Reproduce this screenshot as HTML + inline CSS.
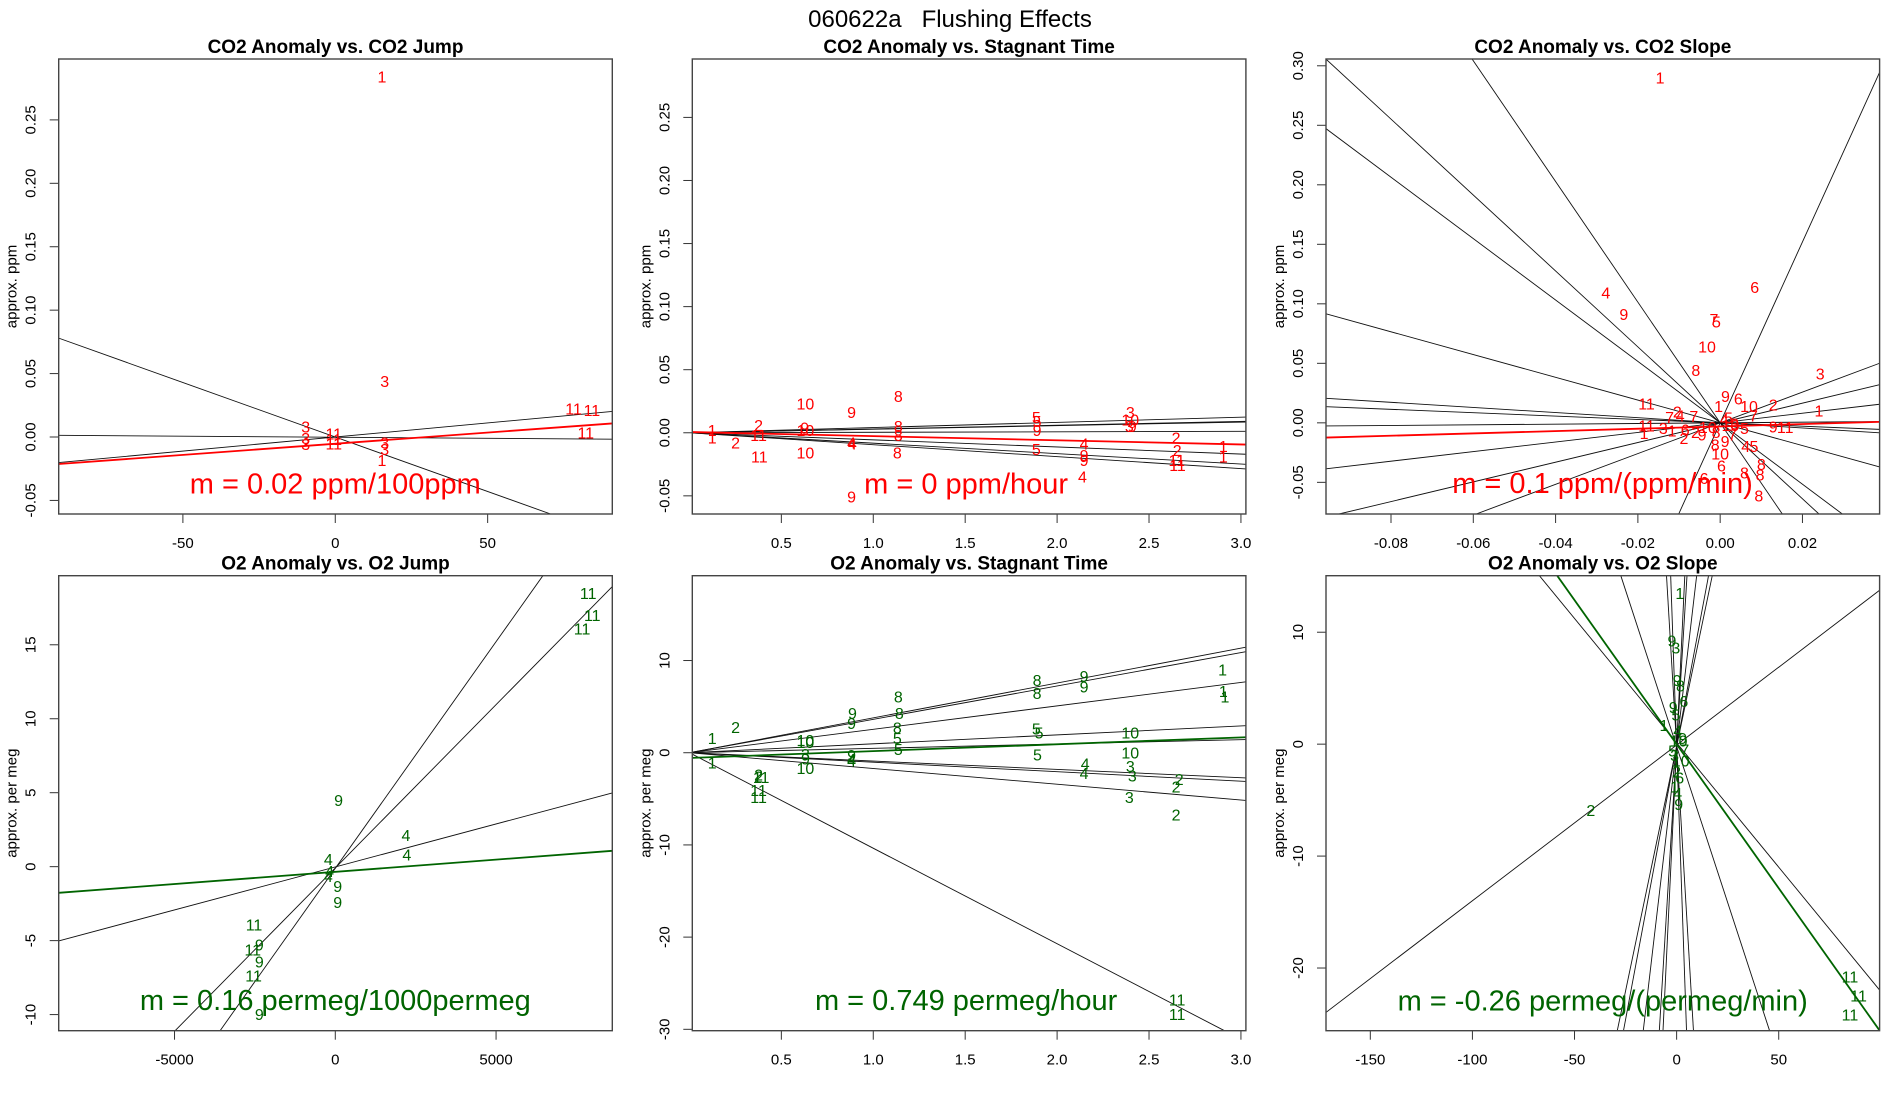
<!DOCTYPE html>
<html><head><meta charset="utf-8"><title>060622a Flushing Effects</title>
<style>html,body{margin:0;padding:0;background:#fff;overflow:hidden;width:1900px;height:1100px}svg{display:block;font-family:"Liberation Sans",Arial,sans-serif}</style>
</head><body>
<svg id="chart" width="1900" height="1100" viewBox="0 0 1900 1100" xmlns="http://www.w3.org/2000/svg">
<rect x="0" y="0" width="1900" height="1100" fill="#fff"/>
<text x="950" y="27" text-anchor="middle" font-size="24" xml:space="preserve">060622a   Flushing Effects</text>
</svg>
<script>
// ---- data ----
const panelTitles = ["CO2 Anomaly vs. CO2 Jump","CO2 Anomaly vs. Stagnant Time","CO2 Anomaly vs. CO2 Slope","O2 Anomaly vs. O2 Jump","O2 Anomaly vs. Stagnant Time","O2 Anomaly vs. O2 Slope"];
const yTitles = ["approx. ppm","approx. ppm","approx. ppm","approx. per meg","approx. per meg","approx. per meg"];
const fitTexts = ["m = 0.02 ppm/100ppm","m = 0 ppm/hour","m = 0.1 ppm/(ppm/min)","m = 0.16 permeg/1000permeg","m = 0.749 permeg/hour","m = -0.26 permeg/(permeg/min)"];
const fitTextPos = [[0,-0.0368],[1.505,-0.0404],[-0.0286,-0.0505],[0,-9.0],[1.505,-26.8],[-36.2,-22.9]];
const xLimits = [[-90.75,90.9],[0.0156,3.027],[-0.0958,0.03875],[-8602,8615],[0.0156,3.027],[-171.7,99.4]];
const yLimits = [[-0.0607,0.298],[-0.0644,0.2963],[-0.0766,0.3057],[-11.09,19.67],[-30.15,19.2],[-25.6,15.05]];
const xTicks = [[-50,0,50],[0.5,1,1.5,2,2.5,3],[-0.08,-0.06,-0.04,-0.02,0,0.02],[-5000,0,5000],[0.5,1,1.5,2,2.5,3],[-150,-100,-50,0,50]];
const xTickLabels = [["-50","0","50"],["0.5","1.0","1.5","2.0","2.5","3.0"],["-0.08","-0.06","-0.04","-0.02","0.00","0.02"],["-5000","0","5000"],["0.5","1.0","1.5","2.0","2.5","3.0"],["-150","-100","-50","0","50"]];
const yTicks = [[-0.05,0,0.05,0.1,0.15,0.2,0.25],[-0.05,0,0.05,0.1,0.15,0.2,0.25],[-0.05,0,0.05,0.1,0.15,0.2,0.25,0.3],[-10,-5,0,5,10,15],[-30,-20,-10,0,10],[-20,-10,0,10]];
const yTickLabels = [["-0.05","0.00","0.05","0.10","0.15","0.20","0.25"],["-0.05","0.00","0.05","0.10","0.15","0.20","0.25"],["-0.05","0.00","0.05","0.10","0.15","0.20","0.25","0.30"],["-10","-5","0","5","10","15"],["-30","-20","-10","0","10"],["-20","-10","0","10"]];

const p1Points = [["1",15.3,0.284],["3",16.2,0.0438],["11",78.2,0.022],["11",84.2,0.0208],["11",82.2,0.0034],["3",-9.7,0.0081],["3",-9.7,-0.0011],["3",-9.7,-0.0059],["11",-0.5,0.0025],["11",-0.5,-0.0017],["11",-0.5,-0.0053],["3",16.2,-0.0045],["3",16.2,-0.0096],["1",15.3,-0.0185]];
const p1Slopes = [-0.000859,0.000222,-0.000017];
const p1Ints = [0,0,-0.0002];
const p1Fit = [0.000176,-0.0053];

const p2Points = [["1",0.124,0.002],["1",0.124,-0.004],["2",0.251,-0.008],["2",0.376,0.006],["11",0.376,-0.002],["11",0.38,-0.019],["10",0.631,0.023],["10",0.631,0.002],["9",0.627,0.004],["10",0.631,-0.016],["9",0.882,0.016],["9",0.882,-0.051],["4",0.882,-0.008],["4",0.886,-0.009],["8",1.136,0.029],["8",1.136,0.005],["8",1.136,-0.002],["8",1.131,-0.016],["5",1.887,0.012],["5",1.891,0.009],["9",1.891,0.002],["5",1.887,-0.013],["4",2.147,-0.009],["9",2.147,-0.018],["9",2.147,-0.022],["4",2.138,-0.035],["3",2.398,0.016],["10",2.398,0.010],["9",2.409,0.005],["3",2.393,0.005],["2",2.647,-0.004],["2",2.653,-0.014],["11",2.651,-0.022],["11",2.655,-0.026],["1",2.904,-0.011],["1",2.904,-0.019]];
const p2Slopes = [0.00412,0.003,0.00282,0.00038,-0.00563,-0.00826,-0.00947];
const p2Ints = [0,0,0,0,0,0,0];
const p2Fit = [-0.00329,0.0006];

const p3Points = [["1",-0.0146,0.290],["4",-0.0278,0.109],["9",-0.0234,0.091],["6",0.0084,0.114],["7",-0.0015,0.087],["5",-0.0009,0.085],["10",-0.0032,0.064],["8",-0.0059,0.044],["3",0.0243,0.041],["11",-0.0179,0.016],["9",0.0013,0.022],["6",0.0044,0.020],["10",0.0070,0.014],["2",0.0129,0.015],["1",0.0240,0.010],["1",-0.0004,0.014],["7",0.0081,0.006],["2",-0.0104,0.009],["4",-0.0097,0.006],["7",-0.0123,0.0045],["7",-0.0064,0.0055],["11",-0.0179,-0.0026],["1",-0.0185,-0.0087],["3",-0.0138,-0.0047],["1",-0.0117,-0.0067],["2",-0.0088,-0.0129],["6",-0.0085,-0.006],["9",-0.0044,-0.0102],["9",0.0129,-0.0033],["11",0.0158,-0.0037],["5",0.0059,-0.0047],["4",0.0062,-0.0199],["5",0.0082,-0.0199],["8",-0.0012,-0.0185],["9",0.0012,-0.0158],["10",0.0,-0.026],["6",0.0003,-0.036],["8",0.0059,-0.0421],["8",0.0100,-0.035],["8",0.0097,-0.0437],["6",-0.0039,-0.0467],["8",0.0094,-0.0616],["4",0.001,0.003],["5",0.002,0.004],["10",0.0025,-0.002],["10",-0.003,-0.004],["8",-0.001,-0.008],["7",0.003,-0.01],["2",-0.006,-0.008],["3",0.0035,-0.001]];
const p3Slopes = [-3.19,-5.07,-2.58,-0.956,-0.2155,-0.1417,0.0275,0.403,0.827,1.292,7.6];
const p3Ints = [0,0,0,0,0,0,0,0,0,0,0];
const p3Fit = [0.098,-0.003];

const p4Points = [["11",7865,18.47],["11",7992,17.0],["11",7675,16.07],["9",102,4.49],["4",2198,2.12],["4",2224,0.79],["4",-216,0.49],["4",-178,-0.33],["4",-216,-0.67],["9",76,-1.33],["9",76,-2.42],["11",-2528,-3.93],["9",-2363,-5.28],["11",-2567,-5.63],["9",-2363,-6.44],["11",-2541,-7.37],["9",-2363,-9.98]];
const p4Slopes = [0.002208,0.003064,0.000581];
const p4Ints = [-0.09,-0.11,-0.02];
const p4Fit = [0.000165,-0.35];

const p5Points = [["1",0.124,1.57],["1",0.124,-1.12],["2",0.251,2.72],["2",0.376,-2.43],["2",0.376,-2.6],["11",0.39,-2.7],["11",0.376,-4.1],["11",0.376,-4.85],["10",0.631,1.31],["10",0.631,1.12],["3",0.631,-0.19],["9",0.631,-0.67],["10",0.631,-1.68],["9",0.887,4.29],["9",0.882,3.17],["9",0.882,-0.3],["4",0.882,-0.75],["4",0.882,-0.86],["8",1.136,6.04],["8",1.142,4.29],["8",1.131,2.69],["5",1.131,1.57],["5",1.136,0.37],["8",1.891,7.84],["8",1.891,6.42],["5",1.887,2.61],["5",1.902,2.16],["5",1.893,-0.26],["9",2.147,8.28],["9",2.147,7.16],["4",2.153,-1.19],["4",2.147,-2.24],["10",2.398,2.16],["10",2.398,0.0],["3",2.398,-1.49],["3",2.409,-2.54],["3",2.393,-4.85],["2",2.664,-2.91],["2",2.647,-3.73],["2",2.647,-6.72],["11",2.653,-26.8],["11",2.653,-28.4],["1",2.9,8.96],["1",2.904,6.64],["1",2.913,6.04]];
const p5Slopes = [3.78,3.62,2.54,0.967,0.472,-0.904,-1.03,-1.71,-10.36];
const p5Ints = [0,0,0,0,0,0,0,0,0];
const p5Fit = [0.744,-0.57];

const p6Points = [["1",1.55,13.46],["9",-2.3,9.22],["3",-0.4,8.6],["9",0.2,5.68],["8",1.9,5.22],["6",3.5,3.84],["9",-1.7,3.29],["5",-0.4,2.6],["1",-6.2,1.69],["4",0.5,1.2],["10",1,0.3],["9",3,0.5],["7",4,-0.5],["3",-1,-1],["10",2,-1.5],["5",-2,-0.6],["2",0,-2.5],["6",1.5,-3],["1",-1,-3.8],["4",0.5,-4.4],["9",1,-5.38],["2",-42,-5.9],["11",84.9,-20.8],["11",89.1,-22.5],["11",84.9,-24.2]];
const p6Slopes = [-0.2222,0.1391,-0.558,-3.08,-5.24,3.81,3.0,1.554,0.976,0.874];
const p6Ints = [0.12,-0.08,-0.2,-0.2,-0.2,-0.2,-0.2,-0.2,-0.2,-0.2];
const p6Fit = [-0.2574,0];

const allPoints = [p1Points,p2Points,p3Points,p4Points,p5Points,p6Points];
const allSlopes = [p1Slopes,p2Slopes,p3Slopes,p4Slopes,p5Slopes,p6Slopes];
const allInts = [p1Ints,p2Ints,p3Ints,p4Ints,p5Ints,p6Ints];
const allFits = [p1Fit,p2Fit,p3Fit,p4Fit,p5Fit,p6Fit];
const seriesColors = ["#ff0000","#ff0000","#ff0000","#006400","#006400","#006400"];

// ---- layout ----
const NS = "http://www.w3.org/2000/svg";
const svg = document.getElementById("chart");
const colX = [58.7,692.3,1326];
const rowY = [59,575.7];
const PW = 553.6, PH = 455;
function mk(tag, attrs, parent){
  const e = document.createElementNS(NS, tag);
  for (const k in attrs) e.setAttribute(k, attrs[k]);
  (parent||svg).appendChild(e);
  return e;
}
// clip y = b + m x to the box [xl] x [yl]; returns [x1,y1,x2,y2] in data units or null
function clipLine(m, b, xl, yl){
  let xa = xl[0], xb = xl[1];
  if (m !== 0){
    let xA = (yl[0]-b)/m, xB = (yl[1]-b)/m;
    if (xA > xB){ const t = xA; xA = xB; xB = t; }
    xa = Math.max(xa, xA); xb = Math.min(xb, xB);
  } else if (b < yl[0] || b > yl[1]) return null;
  if (xa >= xb) return null;
  return [xa, b+m*xa, xb, b+m*xb];
}
const defs = mk("defs", {});
for (let i=0;i<6;i++){
  const L = colX[i%3], T = rowY[Math.floor(i/3)];
  const xl = xLimits[i], yl = yLimits[i];
  const sx = v => L + (v - xl[0])/(xl[1]-xl[0])*PW;
  const sy = v => T + PH - (v - yl[0])/(yl[1]-yl[0])*PH;
  const col = seriesColors[i];
  const cp = mk("clipPath", {id:"clip"+i}, defs);
  mk("rect", {x:L, y:T, width:PW, height:PH}, cp);
  const g = mk("g", {});
  
  
  const title = mk("text", {x:L+PW/2, y:T-6, "text-anchor":"middle", "font-size":"19", "font-weight":"bold"}, g);
  title.textContent = panelTitles[i];
  
  
  const yt = mk("text", {x:0, y:0, "text-anchor":"middle", "font-size":"15", transform:"translate("+(L-42)+","+(T+PH/2)+") rotate(-90)"}, g);
  yt.textContent = yTitles[i];
  
  
  xTicks[i].forEach((t,k)=>{
    const x = sx(t);
    const tk = mk("line", {x1:x, y1:T+PH, x2:x, y2:T+PH+9, stroke:"#333", "stroke-width":"1"}, g);
    
    
    const tl = mk("text", {x:x, y:T+PH+34, "text-anchor":"middle", "font-size":"15"}, g);
    tl.textContent = xTickLabels[i][k];
    
    
  });
  yTicks[i].forEach((t,k)=>{
    const y = sy(t);
    const tk = mk("line", {x1:L-9, y1:y, x2:L, y2:y, stroke:"#333", "stroke-width":"1"}, g);
    
    
    const tl = mk("text", {x:0, y:0, "text-anchor":"middle", "font-size":"15", transform:"translate("+(L-23)+","+y+") rotate(-90)"}, g);
    tl.textContent = yTickLabels[i][k];
    
    
  });
  const cg = mk("g", {"clip-path":"url(#clip"+i+")"}, g);
  allSlopes[i].forEach((m,k)=>{
    const c = clipLine(m, allInts[i][k], xl, yl);
    if (!c) return;
    const ln = mk("line", {x1:sx(c[0]), y1:sy(c[1]), x2:sx(c[2]), y2:sy(c[3]), stroke:"#111", "stroke-width":"0.9"}, cg);
    
    
  });
  allPoints[i].forEach(p=>{
    const t = mk("text", {x:sx(p[1]), y:sy(p[2])+5.6, "text-anchor":"middle", "font-size":"16", fill:col}, cg);
    t.textContent = p[0];
    
    
  });
  const f = allFits[i];
  const fc = clipLine(f[0], f[1], xl, yl);
  if (fc){
    const fl = mk("line", {x1:sx(fc[0]), y1:sy(fc[1]), x2:sx(fc[2]), y2:sy(fc[3]), stroke:col, "stroke-width":"1.8"}, cg);
    
    
  }
  const ft = mk("text", {x:sx(fitTextPos[i][0]), y:sy(fitTextPos[i][1])+10, "text-anchor":"middle", "font-size":"29", fill:col}, g);
  ft.textContent = fitTexts[i];
  
  
  const box = mk("rect", {x:L, y:T, width:PW, height:PH, fill:"none", stroke:"#444", "stroke-width":"1.4"}, g);
  
  
}
</script>
</body></html>
